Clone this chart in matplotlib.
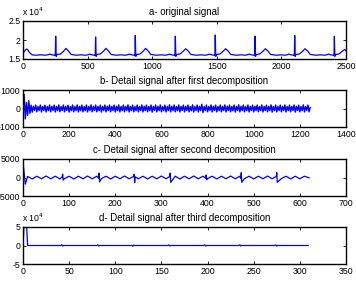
import matplotlib
matplotlib.use("Agg")
import matplotlib.pyplot as plt
from matplotlib.ticker import FuncFormatter

plt.rcParams['font.family'] = ['Liberation Sans', 'DejaVu Sans']

# ---------------- data ----------------
titles = ["a- original signal",
          "b- Detail signal after first decomposition",
          "c- Detail signal after second decomposition",
          "d- Detail signal after third decomposition"]

# a: original ECG signal (vertices)
a_x = [0, 10, 25, 35, 50, 70, 100, 140, 170, 193, 208, 222, 245, 250, 253, 257, 263, 290, 313, 333, 352, 373, 410, 450, 480,
       502, 517, 532, 554, 559, 562, 566, 572, 597, 622, 642, 662, 682, 720, 760, 790,
       809, 824, 839, 861, 866, 869, 873, 879, 904, 929, 949, 969, 989, 1030, 1070, 1100,
       1119, 1134, 1149, 1171, 1176, 1179, 1183, 1189, 1214, 1239, 1259, 1279, 1299, 1340, 1380, 1410,
       1428, 1443, 1458, 1480, 1485, 1488, 1492, 1498, 1523, 1548, 1568, 1588, 1608, 1650, 1690, 1720,
       1736, 1751, 1766, 1788, 1793, 1796, 1800, 1806, 1831, 1856, 1876, 1896, 1916, 1960, 2000, 2030,
       2043, 2058, 2073, 2095, 2100, 2103, 2107, 2113, 2138, 2163, 2183, 2203, 2223, 2265, 2305, 2335,
       2350, 2365, 2380, 2402, 2407, 2410, 2414, 2420, 2445, 2470, 2490, 2499]
a_y = [16400, 17000, 17600, 17500, 16700, 16100, 16000, 16100, 16000, 16100, 16300, 16100, 16000, 15900, 21000, 15700, 16200, 16300, 17000, 17800, 17100, 16200, 16000, 16100, 16000,
       16100, 16300, 16100, 16000, 15900, 20800, 15700, 16200, 16300, 17000, 17800, 17100, 16200, 16000, 16100, 16000,
       16100, 16300, 16100, 16000, 15900, 21200, 15700, 16200, 16300, 17000, 17800, 17100, 16200, 16000, 16100, 16000,
       16100, 16300, 16100, 16000, 15900, 21000, 15700, 16200, 16300, 17000, 17700, 17100, 16200, 16000, 16100, 16000,
       16100, 16300, 16100, 16000, 15900, 21300, 15700, 16200, 16300, 17000, 17700, 17100, 16200, 16000, 16100, 16000,
       16100, 16300, 16100, 16000, 15900, 21000, 15700, 16200, 16300, 17000, 17700, 17100, 16200, 16000, 16100, 16000,
       16100, 16300, 16100, 16000, 15900, 21200, 15700, 16200, 16300, 17000, 17700, 17100, 16200, 16000, 16100, 16000,
       16100, 16300, 16100, 16000, 15900, 21000, 15700, 16200, 16300, 17000, 17500, 17200]

# b: first-level detail (values every 5 samples)
b_step = 5
b_vals = [0, 760, -560, 320, -380, 420, -260, 180, -200, 120, -110, 190, -180, 110, -110, 190, -190, 120, -110, 180, -190, 110, -120, 190, -180,
          120, -110, 185, -190, 115, -120, 195, -180, 110, -115, 190, -185, 120, -110, 180, -195, 115, -120, 190, -180, 110, -115, 195, -190, 120,
          -115, 185, -180, 110, -120, 190, -190, 115, -110, 200, -185, 120, -115, 190, -180, 110, -120, 185, -195, 115, -110, 190, -185, 120, -115,
          190, -180, 115, -110, 185, -190, 120, -115, 195, -185, 110, -120, 190, -180, 115, -110, 200, -190, 120, -115, 185, -180, 110, -120, 190,
          -185, 115, -110, 195, -190, 120, -115, 185, -180, 110, -120, 190, -195, 115, -110, 190, -185, 120, -115, 195, -180, 110, -120, 185, -190,
          115, -110, 200, -185, 120, -115, 190, -180, 110, -120, 195, -190, 115, -110, 185, -185, 120, -115, 190, -180, 110, -120, 200, -195, 115,
          -110, 190, -185, 120, -115, 230, -220, 110, -120, 190, -180, 115, -110, 195, -190, 120, -115, 185, -185, 110, -120, 190, -180, 115, -110,
          195, -190, 120, -115, 185, -180, 110, -120, 190, -195, 115, -110, 200, -185, 120, -115, 190, -180, 110, -120, 195, -190, 115, -110, 185,
          -185, 120, -115, 190, -180, 110, -120, 195, -190, 115, -110, 185, -180, 120, -115, 200, -195, 110, -120, 190, -185, 115, -110, 190, -180,
          120, -115, 195, -190, 110, -120, 185, -180, 115, -110, 190, -195, 120, -115, 185, -185, 110, -120, 200, -190, 115, -110, 190, -180, 60]

# c: second-level detail (vertices)
c_x = [0, 5, 10, 20, 30, 40, 50, 60, 70, 80, 85, 86, 87, 90, 100, 110, 120, 130, 140, 150, 160, 164, 165, 166, 170,
       180, 190, 200, 210, 220, 230, 240, 241, 242, 243, 250, 260, 270, 280, 290, 300, 310, 318, 319, 320,
       330, 340, 350, 360, 370, 380, 390, 396, 397, 398, 400, 410, 420, 430, 440, 450, 460, 470, 472, 473, 474,
       480, 490, 500, 510, 520, 530, 540, 549, 550, 551, 560, 570, 580, 590, 600, 610, 620]
c_y = [4200, -1800, 300, -400, 350, -350, 400, -350, 350, -400, 200, 900, -700, -300, 350, -400, 350, -350, 400, -350, 350, -200, 1200, -1200, -300,
       350, -400, 350, -350, 400, -350, 300, 900, -1400, 200, -350, 350, -400, 350, -350, 400, -350, 300, 1200, -1300,
       350, -400, 350, -350, 400, -350, 350, -200, 700, -600, -300, 350, -400, 350, -350, 400, -350, 350, -300, 1300, -1300,
       -300, 350, -400, 350, -350, 400, -350, 300, 1300, -1300, -300, 350, -400, 350, -350, 350, -100]

# d: third-level detail (vertices)
d_x = [0, 1, 4, 5, 41, 42, 43, 44, 80, 81, 82, 83, 118, 119, 120, 121, 157, 158, 159, 160,
       196, 197, 198, 199, 234, 235, 236, 237, 273, 274, 275, 276, 309]
d_y = [0, 49000, 49000, 0, 0, 2000, -1500, 0, 0, 1800, -1200, 0, 0, -2000, 1200, 0, 0, 1500, -1200, 0,
       0, 1800, -1200, 0, 0, 2000, -1200, 0, 0, 1500, -1200, 0, 0]

xlims = [2500, 1400, 700, 350]
xsteps = [500, 200, 100, 50]
ylims = [(1.5, 2.5), (-1000, 1000), (-5000, 5000), (-5, 5)]
yticks = [[1.5, 2, 2.5], [-1000, 0, 1000], [-5000, 0, 5000], [-5, 0, 5]]

# ---------------- figure ----------------
W, H = 356, 290
fig = plt.figure(figsize=(W / 100, H / 100), dpi=100)

boxes = [(23, 21, 346, 59), (23, 90, 346, 127), (23, 159, 346, 196), (23, 227, 346, 264)]
fmt = FuncFormatter(lambda v, p: '%g' % v)

axes = []
for i, (l, t, r, b) in enumerate(boxes):
    ax = fig.add_axes([l / W, 1 - b / H, (r - l) / W, (b - t) / H])
    axes.append(ax)

blue = (0, 0, 1)
lw = 0.9
axes[0].plot(a_x, [v / 1e4 for v in a_y], color=blue, lw=lw)
axes[1].plot([i * b_step for i in range(len(b_vals))], b_vals, color=blue, lw=1.0)
axes[2].plot(c_x, c_y, color=blue, lw=lw)
axes[3].plot(d_x, [v / 1e4 for v in d_y], color=blue, lw=lw)

for i, ax in enumerate(axes):
    ax.set_xlim(0, xlims[i])
    ax.set_ylim(*ylims[i])
    ax.set_xticks(list(range(0, xlims[i] + 1, xsteps[i])))
    ax.set_yticks(yticks[i])
    ax.xaxis.set_major_formatter(fmt)
    ax.yaxis.set_major_formatter(fmt)
    ax.tick_params(direction='in', length=2.5, width=0.6, labelsize=6.3, pad=2,
                   top=True, right=True, colors='black')
    for s in ax.spines.values():
        s.set_linewidth(1.0)
    ax.set_title(titles[i], fontsize=6.9, pad=4)

for (l, t, r, b) in [boxes[0], boxes[3]]:
    fig.text((l - 0.5) / W, 1 - (t - 5) / H, r'x 10$^{4}$', fontsize=6.3, ha='left', va='baseline')

fig.savefig("out.png", dpi=100)
